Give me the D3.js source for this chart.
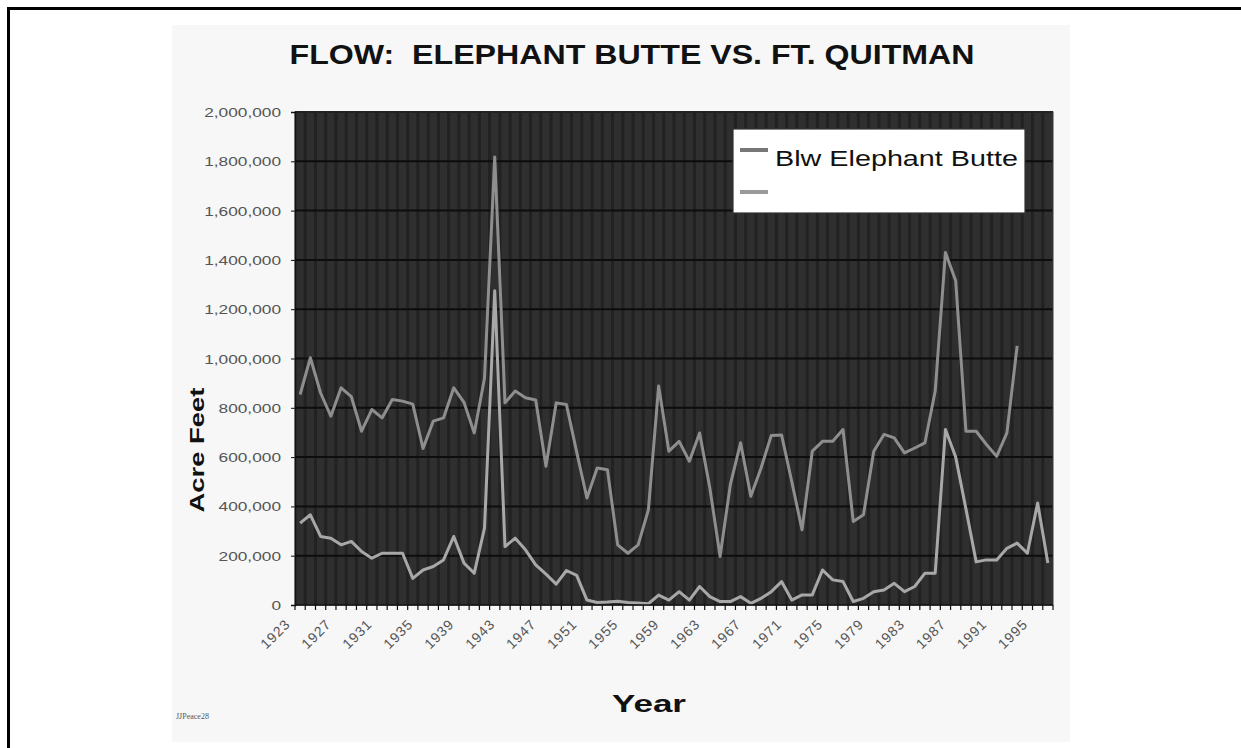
<!DOCTYPE html>
<html><head><meta charset="utf-8">
<script src="https://cdn.jsdelivr.net/npm/d3@7"></script>
<style>body{margin:0;background:#fff;} svg{display:block;}</style>
</head><body><svg id="c" width="1241" height="748"></svg>
<script>
const years = [1923,1924,1925,1926,1927,1928,1929,1930,1931,1932,1933,1934,1935,1936,1937,1938,1939,1940,1941,1942,1943,1944,1945,1946,1947,1948,1949,1950,1951,1952,1953,1954,1955,1956,1957,1958,1959,1960,1961,1962,1963,1964,1965,1966,1967,1968,1969,1970,1971,1972,1973,1974,1975,1976,1977,1978,1979,1980,1981,1982,1983,1984,1985,1986,1987,1988,1989,1990,1991,1992,1993,1994,1995,1996];
const xTickLabels = [1923,1927,1931,1935,1939,1943,1947,1951,1955,1959,1963,1967,1971,1975,1979,1983,1987,1991,1995];
const yTickValues = [0,200000,400000,600000,800000,1000000,1200000,1400000,1600000,1800000,2000000];
const elephantButte = [854000,1003000,860000,766000,881000,845000,705000,793000,759000,834000,827000,815000,635000,746000,759000,881000,822000,698000,920000,1817000,820000,868000,841000,832000,563000,820000,813000,620000,434000,556000,549000,244000,210000,244000,386000,888000,624000,664000,583000,698000,475000,197000,488000,658000,441000,556000,688000,690000,500000,305000,624000,664000,664000,712000,339000,366000,624000,692000,678000,617000,637000,658000,868000,1430000,1315000,705000,705000,651000,603000,698000,1051000];
const ftQuitman = [332000,366000,278000,271000,244000,258000,217000,190000,210000,210000,210000,108000,142000,156000,183000,278000,170000,129000,312000,1275000,237000,271000,224000,163000,125000,85000,140000,120000,20000,10000,12000,15000,10000,8000,5000,40000,20000,54000,20000,75000,34000,14000,14000,34000,7000,27000,54000,95000,20000,41000,41000,142000,102000,95000,14000,27000,54000,61000,88000,54000,75000,129000,129000,712000,600000,390000,175000,183000,183000,230000,251000,210000,414000,170000];
const seriesNames = ["Blw Elephant Butte", ""];
const titleText = "FLOW:\u00a0\u00a0ELEPHANT BUTTE VS. FT. QUITMAN";
const yTitle = "Acre Feet";
const xTitle = "Year";
const footnote = "JJPeace28";

const svg = d3.select("#c");
const L = 295, R = 1053, T = 112, B = 605;
const x = d3.scaleBand().domain(years).range([L, R]);
const cx = d => x(d) + x.bandwidth() / 2;
const y = d3.scaleLinear().domain([0, 2000000]).range([B, T]);

// page frame
svg.append("rect").attr("x",0).attr("y",0).attr("width",1241).attr("height",748).attr("fill","#fff");
svg.append("rect").attr("x",172).attr("y",25).attr("width",898).attr("height",717).attr("fill","#f7f7f7");
svg.append("line").attr("x1",7).attr("x2",1241).attr("y1",8.5).attr("y2",8.5).attr("stroke","#000").attr("stroke-width",3);
svg.append("line").attr("x1",8.5).attr("x2",8.5).attr("y1",7).attr("y2",748).attr("stroke","#000").attr("stroke-width",3);

// plot background
svg.append("rect").attr("x",L).attr("y",T).attr("width",R-L).attr("height",B-T).attr("fill","#2f2f2f");
// vertical stripe texture at category boundaries
svg.append("g").selectAll("line").data(years.slice(1)).join("line")
  .attr("x1", d => x(d)).attr("x2", d => x(d)).attr("y1", T).attr("y2", B)
  .attr("stroke", "#222").attr("stroke-width", 3);
// horizontal gridlines
svg.append("g").selectAll("line").data(yTickValues.slice(1)).join("line")
  .attr("x1", L).attr("x2", R).attr("y1", d => y(d)).attr("y2", d => y(d))
  .attr("stroke", "#0d0d0d").attr("stroke-width", 2);
svg.append("rect").attr("x",L).attr("y",T).attr("width",R-L).attr("height",B-T).attr("fill","none").attr("stroke","#3a3a3a").attr("stroke-width",1);

// series lines
const line = d3.line().x((d,i) => cx(years[i])).y(d => y(d));
svg.append("path").datum(ftQuitman).attr("d", line).attr("fill","none")
  .attr("stroke","#a8a8a8").attr("stroke-width",3).attr("stroke-linejoin","round");
svg.append("path").datum(elephantButte).attr("d", line).attr("fill","none")
  .attr("stroke","#8e8e8e").attr("stroke-width",3).attr("stroke-linejoin","round");

// y axis
const ya = svg.append("g").attr("transform", `translate(${L},0)`)
  .call(d3.axisLeft(y).tickValues(yTickValues).tickFormat(d3.format(",")).tickSize(4).tickPadding(0));
ya.select(".domain").attr("stroke","#111").attr("stroke-width",1.5);
ya.selectAll(".tick line").attr("stroke","#111");
ya.selectAll(".tick text").attr("x",0).attr("dy","0.35em")
  .attr("transform","translate(-14,0) scale(1.33,1)")
  .attr("font-family","Liberation Sans, Arial, sans-serif").attr("font-size",13).attr("fill","#555");

// x axis: line, ticks at category boundaries, rotated labels
svg.append("line").attr("x1",L).attr("x2",R).attr("y1",B).attr("y2",B).attr("stroke","#111").attr("stroke-width",1.5);
const bounds = years.map(d => x(d)).concat([R]);
svg.append("g").selectAll("line").data(bounds).join("line")
  .attr("x1", d => d).attr("x2", d => d).attr("y1", B).attr("y2", B + 5)
  .attr("stroke","#111").attr("stroke-width",1.2);
svg.append("g").selectAll("text").data(xTickLabels).join("text")
  .attr("transform", d => `translate(${cx(d) - 9},${B + 20}) rotate(-45)`)
  .attr("text-anchor","end")
  .attr("font-family","Liberation Sans, Arial, sans-serif").attr("font-size",14)
  .attr("letter-spacing",1).attr("fill","#555")
  .text(d => d);

// titles
svg.append("text").attr("x",632).attr("y",64).attr("text-anchor","middle")
  .attr("font-family","Liberation Sans, Arial, sans-serif").attr("font-weight","bold").attr("font-size",28)
  .attr("textLength",685).attr("lengthAdjust","spacingAndGlyphs").attr("fill","#111").text(titleText);
svg.append("text").attr("transform","translate(204,450) rotate(-90)").attr("text-anchor","middle")
  .attr("font-family","Liberation Sans, Arial, sans-serif").attr("font-weight","bold").attr("font-size",21)
  .attr("textLength",125).attr("lengthAdjust","spacingAndGlyphs").attr("fill","#111").text(yTitle);
svg.append("text").attr("x",649).attr("y",712).attr("text-anchor","middle")
  .attr("font-family","Liberation Sans, Arial, sans-serif").attr("font-weight","bold").attr("font-size",24)
  .attr("textLength",74).attr("lengthAdjust","spacingAndGlyphs").attr("fill","#111").text(xTitle);
svg.append("text").attr("x",176).attr("y",719)
  .attr("font-family","Liberation Serif, serif").attr("font-size",8).attr("fill","#555").text(footnote);

// legend
const lg = svg.append("g");
lg.append("rect").attr("x",733).attr("y",129).attr("width",292).attr("height",84).attr("fill","#fff").attr("stroke","#333").attr("stroke-width",1.2);
const legendColors = ["#777777", "#9a9a9a"];
seriesNames.forEach((n, i) => {
  const ly = 150 + i * 42;
  lg.append("line").attr("x1",740).attr("x2",768).attr("y1",ly).attr("y2",ly)
    .attr("stroke",legendColors[i]).attr("stroke-width",4);
  if (n) lg.append("text").attr("x",775).attr("y",ly + 16)
    .attr("font-family","Liberation Sans, Arial, sans-serif").attr("font-size",22)
    .attr("textLength",243).attr("lengthAdjust","spacingAndGlyphs").attr("fill","#111").text(n);
});
</script></body></html>
